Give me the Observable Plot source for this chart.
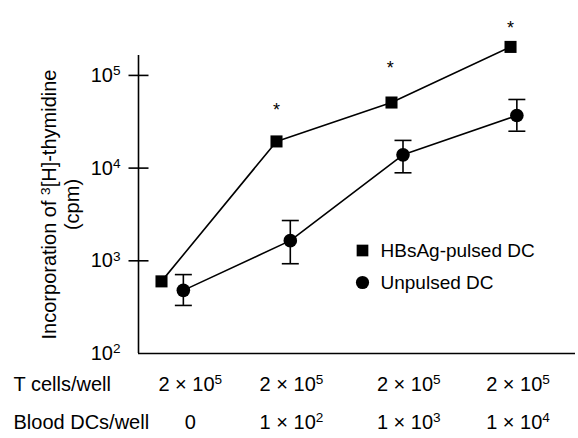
<!DOCTYPE html>
<html><head><meta charset="utf-8">
<script src="https://cdn.jsdelivr.net/npm/d3@7"></script>
<script src="https://cdn.jsdelivr.net/npm/@observablehq/plot@0.6"></script>
<style>body{margin:0;background:#fff}</style>
</head><body><div id="chart"></div>
<script>
// Series (x = condition position, y = cpm)
const pulsedX = [0, 1, 2, 3.035];
const pulsedY = [600, 19400, 51000, 203000];
const unpulsedX = [0.19, 1.12, 2.10, 3.09];
const unpulsedY = [480, 1650, 13900, 36900];
const unpulsedLo = [330, 930, 8900, 25000];
const unpulsedHi = [710, 2720, 19900, 55000];
// significance stars
const starX = [1, 1.99, 3.035];
const starY = [42000, 120000, 320000];
// y ticks
const yTicks = [1e2, 1e3, 1e4, 1e5];
const yTickLabels = ["10²", "10³", "10⁴", "10⁵"];
// condition table
const colX = [0.25, 1.13, 2.15, 3.1];
const tCellsRow = ["2 × 10⁵", "2 × 10⁵", "2 × 10⁵", "2 × 10⁵"];
const dcRow = ["0", "1 × 10²", "1 × 10³", "1 × 10⁴"];
const rowHeaders = ["T cells/well", "Blood DCs/well"];
const seriesNames = ["HBsAg-pulsed DC", "Unpulsed DC"];
const seriesSymbols = ["square", "circle"];
const yLabel = "Incorporation of ³[H]-thymidine\n(cpm)";

const pulsed = pulsedX.map((x, i) => ({x, y: pulsedY[i]}));
const unpulsed = unpulsedX.map((x, i) => ({x, y: unpulsedY[i], lo: unpulsedLo[i], hi: unpulsedHi[i]}));
const stars = starX.map((x, i) => ({x, y: starY[i]}));
const ticks = yTicks.map((v, i) => ({v, label: yTickLabels[i]}));
const cols = colX.map((x, i) => ({x, t: tCellsRow[i], d: dcRow[i]}));

const hline = {draw(ctx, size) { const r = Math.sqrt(size / Math.PI); ctx.moveTo(-r, 0); ctx.lineTo(r, 0); }};
const xDomain = [-0.2, 3.6];
const font = 20;
const sw = 1.6;

const legendMarks = seriesNames.flatMap((name, i) => [
  Plot.dot([name], {frameAnchor: "top-left", dx: 224, dy: 195 + 32 * i, symbol: seriesSymbols[i], r: 6.6, fill: "#000", stroke: "none"}),
  Plot.text([name], {text: d => d, frameAnchor: "top-left", dx: 242, dy: 195 + 32 * i, textAnchor: "start", lineAnchor: "middle", fontSize: 19, fill: "#000"})
]);

const chart = Plot.plot({
  width: 578, height: 438,
  marginLeft: 138, marginRight: 3, marginTop: 55, marginBottom: 85,
  style: {fontFamily: "'Liberation Sans', Arial, Helvetica, sans-serif", background: "#fff", color: "#000"},
  x: {domain: xDomain, axis: null},
  y: {type: "log", domain: [100, 164000], axis: null},
  marks: [
    Plot.ruleX([xDomain[0]], {stroke: "#000", strokeWidth: sw}),
    Plot.ruleY([100], {stroke: "#000", strokeWidth: sw}),
    Plot.dot(ticks.slice(1), {y: "v", frameAnchor: "left", symbol: hline, r: 10, stroke: "#000", strokeWidth: sw, fill: "none"}),
    Plot.text(ticks, {y: "v", text: "label", frameAnchor: "left", dx: -18, textAnchor: "end", fontSize: font, fill: "#000"}),
    Plot.text([yLabel], {text: d => d, frameAnchor: "left", dx: -78, rotate: -90, textAnchor: "middle", lineAnchor: "middle", lineHeight: 1.15, fontSize: font, fill: "#000"}),
    // error bars
    Plot.ruleX(unpulsed, {x: "x", y1: "lo", y2: "hi", stroke: "#000", strokeWidth: sw}),
    Plot.dot(unpulsed, {x: "x", y: "lo", symbol: hline, r: 8.5, stroke: "#000", strokeWidth: sw, fill: "none"}),
    Plot.dot(unpulsed, {x: "x", y: "hi", symbol: hline, r: 8.5, stroke: "#000", strokeWidth: sw, fill: "none"}),
    // series
    Plot.line(pulsed, {x: "x", y: "y", stroke: "#000", strokeWidth: sw}),
    Plot.line(unpulsed, {x: "x", y: "y", stroke: "#000", strokeWidth: sw}),
    Plot.dot(pulsed, {x: "x", y: "y", symbol: "square", r: 6.8, fill: "#000", stroke: "none"}),
    Plot.dot(unpulsed, {x: "x", y: "y", symbol: "circle", r: 6.8, fill: "#000", stroke: "none"}),
    Plot.text(stars, {x: "x", y: "y", text: () => "*", fontSize: 18, fill: "#000"}),
    ...legendMarks,
    // condition table
    Plot.text(cols, {x: "x", text: "t", frameAnchor: "bottom", dy: 37, fontSize: font, fill: "#000"}),
    Plot.text(cols, {x: "x", text: "d", frameAnchor: "bottom", dy: 75, fontSize: font, fill: "#000"}),
    Plot.text([rowHeaders[0]], {text: d => d, frameAnchor: "bottom-left", dx: -125, dy: 37, textAnchor: "start", fontSize: font, fill: "#000"}),
    Plot.text([rowHeaders[1]], {text: d => d, frameAnchor: "bottom-left", dx: -125, dy: 75, textAnchor: "start", fontSize: font, fill: "#000"})
  ]
});
document.getElementById("chart").appendChild(chart);

// render unicode superscript digits as real raised, smaller tspans
const supMap = {"²": "2", "³": "3", "⁴": "4", "⁵": "5"};
const svgNS = "http://www.w3.org/2000/svg";
chart.querySelectorAll("text, tspan").forEach(el => {
  if (el.children.length) return;
  const s = el.textContent;
  if (!/[²³⁴⁵]/.test(s)) return;
  const fs = parseFloat(getComputedStyle(el).fontSize) || font;
  const rise = 0.33 * fs;
  el.textContent = "";
  let raised = false;
  s.split(/([²³⁴⁵]+)/).filter(p => p.length).forEach(p => {
    const t = document.createElementNS(svgNS, "tspan");
    if (/[²³⁴⁵]/.test(p)) {
      t.textContent = [...p].map(c => supMap[c]).join("");
      t.setAttribute("font-size", (0.68 * fs) + "px");
      t.setAttribute("dy", (-rise) + "");
      raised = true;
    } else {
      t.textContent = p;
      if (raised) { t.setAttribute("dy", rise + ""); raised = false; }
    }
    el.appendChild(t);
  });
});
</script></body></html>
